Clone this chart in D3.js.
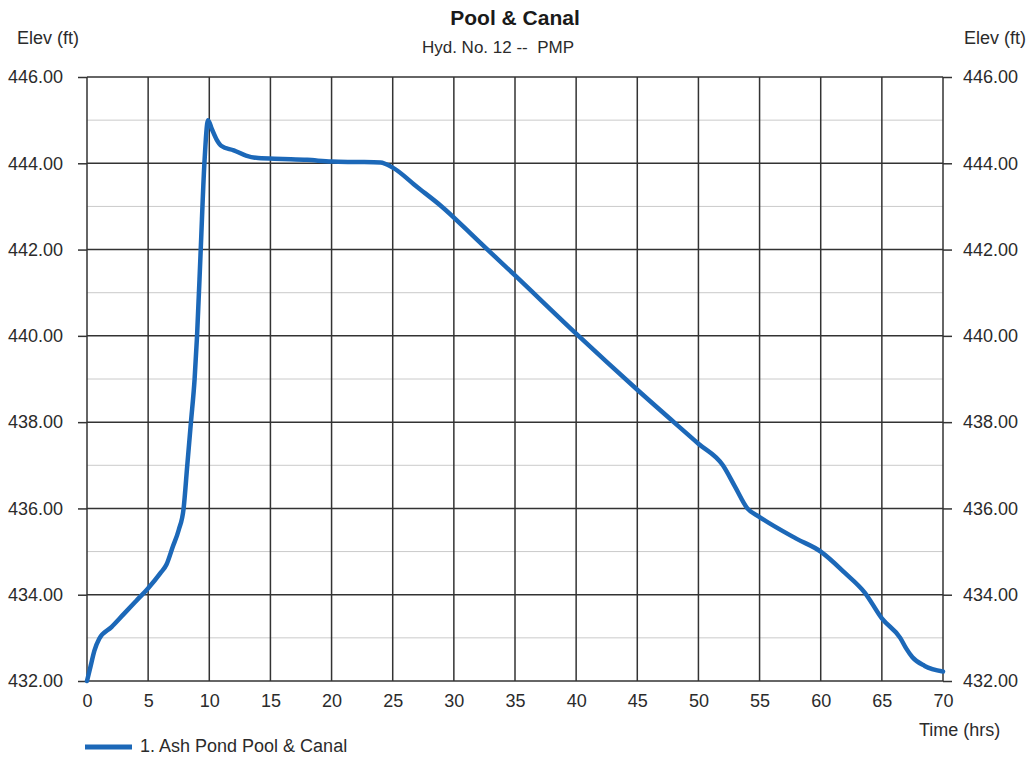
<!DOCTYPE html>
<html>
<head>
<meta charset="utf-8">
<script src="https://cdn.jsdelivr.net/npm/d3@7"></script>
<style>
  body { margin: 0; background: #fff; }
  text { font-family: "Liberation Sans", Arial, sans-serif; fill: #2b2b2b; }
</style>
</head>
<body>
<div id="chart"></div>
<script>
// hydrograph readings: time (hrs) and pool elevation (ft)
const times = [0, 0.3, 0.6, 1, 2, 3, 4, 5, 6, 6.5, 7, 7.5, 7.9, 8.2, 8.5, 8.8, 9.0, 9.3, 9.6, 9.9,
  10.2, 10.6, 11, 12, 13, 14, 16, 18, 20, 22, 24, 25, 27, 29, 32, 35, 40, 45, 50, 52, 53, 54,
  55, 58, 60, 62, 63.6, 65, 66.5, 67, 67.5, 68.5, 70];
const elevations = [432.0, 432.35, 432.7, 432.98, 433.25, 433.55, 433.85, 434.15, 434.5, 434.7,
  435.1, 435.5, 436.0, 437.0, 438.0, 439.0, 440.0, 442.0, 444.0, 445.0,
  444.8, 444.55, 444.4, 444.3, 444.18, 444.12, 444.1, 444.08, 444.04, 444.03, 444.02, 443.9,
  443.45, 443.0, 442.2, 441.4, 440.05, 438.75, 437.5, 437.0, 436.5, 436.0,
  435.8, 435.3, 435.0, 434.5, 434.05, 433.45, 433.0, 432.75, 432.55, 432.35, 432.22];

const xTicks = [0, 5, 10, 15, 20, 25, 30, 35, 40, 45, 50, 55, 60, 65, 70];
const yTicks = [432, 434, 436, 438, 440, 442, 444, 446];
const yMinor = [433, 435, 437, 439, 441, 443, 445];

const title = "Pool & Canal";
const subtitle = "Hyd. No. 12 --  PMP";
const seriesName = "1. Ash Pond Pool & Canal";

const width = 1033, height = 758;
const margin = { top: 77, right: 90, bottom: 77, left: 87 };

const svg = d3.select("#chart").append("svg")
  .attr("width", width)
  .attr("height", height);

const x = d3.scaleLinear().domain([0, 70]).range([margin.left, width - margin.right]);
const y = d3.scaleLinear().domain([432, 446]).range([height - margin.bottom, margin.top]);

// minor horizontal grid
svg.append("g").selectAll("line")
  .data(yMinor)
  .enter().append("line")
  .attr("x1", x(0)).attr("x2", x(70))
  .attr("y1", d => y(d)).attr("y2", d => y(d))
  .style("stroke", "#cacaca")
  .style("stroke-width", 1);

// major horizontal grid
svg.append("g").selectAll("line")
  .data(yTicks)
  .enter().append("line")
  .attr("x1", x(0)).attr("x2", x(70))
  .attr("y1", d => y(d)).attr("y2", d => y(d))
  .style("stroke", "#333")
  .style("stroke-width", 1.5);

// vertical grid
svg.append("g").selectAll("line")
  .data(xTicks)
  .enter().append("line")
  .attr("x1", d => x(d)).attr("x2", d => x(d))
  .attr("y1", y(446)).attr("y2", y(432))
  .style("stroke", "#333")
  .style("stroke-width", 1.5);

// axes
const leftAxis = svg.append("g")
  .attr("transform", "translate(" + x(0) + ",0)")
  .call(d3.axisLeft(y).tickValues(yTicks).tickFormat(d3.format(".2f")).tickSize(9).tickPadding(15));
const rightAxis = svg.append("g")
  .attr("transform", "translate(" + x(70) + ",0)")
  .call(d3.axisRight(y).tickValues(yTicks).tickFormat(d3.format(".2f")).tickSize(9).tickPadding(11));
const bottomAxis = svg.append("g")
  .attr("transform", "translate(0," + y(432) + ")")
  .call(d3.axisBottom(x).tickValues(xTicks).tickSize(0).tickPadding(13));

[leftAxis, rightAxis, bottomAxis].forEach(g => {
  g.select(".domain").remove();
  g.selectAll("line").style("stroke", "#333").style("stroke-width", 1.5);
  g.selectAll("text")
    .style("font-family", "'Liberation Sans', Arial, sans-serif")
    .style("font-size", "18px")
    .style("fill", "#2b2b2b");
});

// the elevation curve
const points = times.map((t, i) => [t, elevations[i]]);
const line = d3.line()
  .x(d => x(d[0]))
  .y(d => y(d[1]))
  .curve(d3.curveMonotoneX);

svg.append("path")
  .datum(points)
  .attr("d", line)
  .style("fill", "none")
  .style("stroke", "#1c68b8")
  .style("stroke-width", 4.5)
  .style("stroke-linejoin", "round")
  .style("stroke-linecap", "round");

// titles
svg.append("text")
  .attr("x", 515).attr("y", 25)
  .attr("text-anchor", "middle")
  .style("font-size", "21px")
  .style("font-weight", "bold")
  .style("fill", "#1a1a1a")
  .text(title);
svg.append("text")
  .attr("x", 498).attr("y", 53)
  .attr("text-anchor", "middle")
  .style("font-size", "17px")
  .style("white-space", "pre")
  .attr("xml:space", "preserve")
  .text(subtitle);

svg.append("text")
  .attr("x", 17).attr("y", 44)
  .style("font-size", "18px")
  .text("Elev (ft)");
svg.append("text")
  .attr("x", 964).attr("y", 44)
  .style("font-size", "18px")
  .text("Elev (ft)");
svg.append("text")
  .attr("x", 919).attr("y", 736)
  .style("font-size", "18px")
  .text("Time (hrs)");

// legend
svg.append("line")
  .attr("x1", 85).attr("x2", 132)
  .attr("y1", 747).attr("y2", 747)
  .style("stroke", "#1c68b8")
  .style("stroke-width", 5);
svg.append("text")
  .attr("x", 140).attr("y", 752)
  .style("font-size", "18px")
  .text(seriesName);
</script>
</body>
</html>
